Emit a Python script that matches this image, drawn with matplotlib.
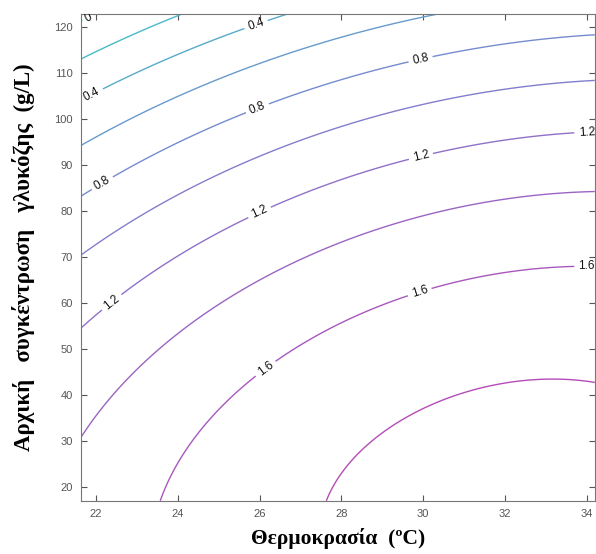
import numpy as np
import matplotlib
matplotlib.use("Agg")
import matplotlib.pyplot as plt
from matplotlib.colors import LinearSegmentedColormap

# fitted response surface: z = b0 + b1*T + b2*G + b11*T^2 + b22*G^2 + b12*T*G
coef = [-1.84968, 0.233867, -0.00488059, -0.00369026, -0.000105564, 0.000252472]
levels = [0.0, 0.2, 0.4, 0.6, 0.8, 1.0, 1.2, 1.4, 1.6, 1.8]
temp_range = [21.63, 34.2]
gluc_range = [17.0, 122.8]
x_ticks = [22, 24, 26, 28, 30, 32, 34]
y_ticks = [20, 30, 40, 50, 60, 70, 80, 90, 100, 110, 120]

# where the inline labels sit in the original (only on 0, 0.4, 0.8, 1.2, 1.6)
label_spots = [(21.8, 122.2),
               (21.9, 105.2), (25.93, 120.0),
               (22.17, 85.7), (25.95, 102.2), (29.95, 112.4),
               (22.39, 60.0), (26.0, 79.6), (29.95, 91.7), (34.0, 97.0),
               (26.17, 45.4), (29.9, 62.8), (34.0, 67.6)]

temp = np.linspace(temp_range[0], temp_range[1], 300)
gluc = np.linspace(gluc_range[0], gluc_range[1], 300)
T, G = np.meshgrid(temp, gluc)
Z = coef[0] + coef[1] * T + coef[2] * G + coef[3] * T ** 2 + coef[4] * G ** 2 + coef[5] * T * G

cmap = LinearSegmentedColormap.from_list("cool_dim", ["#3cc8c4", "#7c84d0", "#b44cb8"])

fig = plt.figure(figsize=(5.96, 5.54), dpi=100)
ax = fig.add_axes([0.136, 0.096, 0.862, 0.879])
cs = ax.contour(T, G, Z, levels=levels, cmap=cmap, linewidths=1.0)
ax.clabel(cs, fontsize=8.5, fmt="%g", colors="#111111",
          manual=label_spots, inline_spacing=3)
for t in cs.labelTexts:
    t.set_family("Liberation Sans")

ax.set_xlim(temp_range)
ax.set_ylim(gluc_range)
ax.set_xticks(x_ticks)
ax.set_yticks(y_ticks)
ax.tick_params(direction="in", top=True, right=True, labelsize=8,
               colors="#555555", length=4)
ax.tick_params(axis="y", pad=6)
ax.tick_params(axis="x", pad=6)
for lab in ax.get_xticklabels() + ax.get_yticklabels():
    lab.set_family("Liberation Sans")
for s in ax.spines.values():
    s.set_color("#777777")

ax.set_xlabel("Θερμοκρασία  (ºC)", family="Liberation Serif", fontsize=15.5, fontweight="bold")
ax.set_ylabel("Αρχική   συγκέντρωση   γλυκόζης  (g/L)", family="Liberation Serif",
              fontsize=16.5, fontweight="bold")
ax.xaxis.set_label_coords(0.5, -0.055)
ax.yaxis.set_label_coords(-0.09, 0.5)

fig.savefig("out.png")
